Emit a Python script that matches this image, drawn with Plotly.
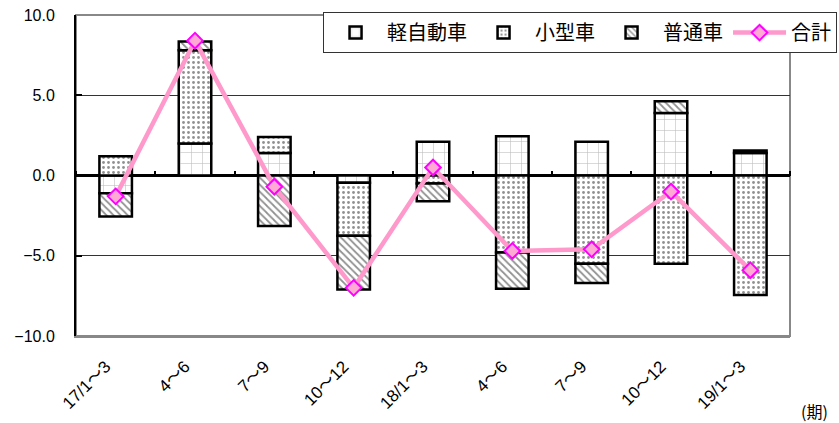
import plotly.graph_objects as go

categories = ["17/1～3", "4～6", "7～9", "10～12", "18/1～3", "4～6", "7～9", "10～12", "19/1～3"]
kei = [-1.1, 2.0, 1.4, -0.45, 2.1, 2.45, 2.1, 3.9, 1.4]
kogata = [1.2, 5.8, 1.0, -3.3, -0.5, -4.8, -5.5, -5.5, -7.45]
futsu = [-1.45, 0.55, -3.15, -3.35, -1.1, -2.25, -1.2, 0.72, 0.15]
total = [-1.3, 8.4, -0.7, -7.0, 0.5, -4.7, -4.6, -1.0, -5.9]
y_ticks = [-10, -5, 0, 5, 10]

xpos = list(range(len(categories)))
boundaries = [i - 0.5 for i in range(len(categories) + 1)]

FONT = "Liberation Sans, Arial, Noto Sans CJK JP, sans-serif"
LEG_FONT = "Noto Sans CJK JP, sans-serif"

fig = go.Figure()

def bar(name, vals, shape, size, solidity, fg):
    fig.add_trace(go.Bar(
        name=name, x=xpos, y=vals, width=0.41,
        marker=dict(color="white",
                    line=dict(color="black", width=2.5),
                    pattern=dict(shape=shape, size=size, solidity=solidity,
                                 fgcolor=fg, bgcolor="white", fillmode="overlay")),
    ))

bar("軽自動車", kei, "+", 11, 0.1, "#777777")
bar("小型車", kogata, ".", 5, 0.25, "#222222")
bar("普通車", futsu, "\\", 5, 0.35, "#222222")

fig.add_trace(go.Scatter(
    name="合計", x=xpos, y=total, mode="lines+markers",
    line=dict(color="#FF99CC", width=4.5),
    marker=dict(symbol="diamond", size=12, color="#FFAAD5",
                line=dict(color="#FF00FF", width=2)),
))

# invisible helper so the category-boundary tick axis at zero is drawn
fig.add_trace(go.Scatter(
    x=boundaries, y=[0] * len(boundaries), xaxis="x2", mode="markers",
    marker=dict(opacity=0), showlegend=False, hoverinfo="skip",
))

fig.update_layout(
    width=839, height=423,
    margin=dict(l=76, r=49, t=15, b=87, autoexpand=False),
    barmode="relative",
    plot_bgcolor="white", paper_bgcolor="white",
    font=dict(family=FONT, size=15, color="black"),
    showlegend=True,
    legend=dict(orientation="h", x=0.346, y=1.009, xanchor="left", yanchor="top",
                bgcolor="white", bordercolor="#333333", borderwidth=1,
                font=dict(family=LEG_FONT, size=20), itemwidth=53,
                traceorder="normal"),
    xaxis=dict(range=[-0.5, len(categories) - 0.5], tickvals=xpos, ticktext=categories,
               tickangle=-45, ticks="", showgrid=False, zeroline=False,
               showline=True, linecolor="#888888", linewidth=2, automargin=False,
               ticklabelstandoff=12, ticklabelshift=-10,
               tickfont=dict(family=FONT, size=17)),
    xaxis2=dict(overlaying="x", anchor="free", position=0.5, side="top",
                range=[-0.5, len(categories) - 0.5], tickvals=boundaries,
                ticks="outside", ticklen=5, tickwidth=2, tickcolor="black",
                showticklabels=False, showline=False, showgrid=False, zeroline=False,
                automargin=False),
    yaxis=dict(range=[-10, 10], tickvals=y_ticks, tickformat=".1f",
               ticks="inside", ticklen=6, tickwidth=1.5, tickcolor="black",
               showline=True, linecolor="black", linewidth=2,
               showgrid=True, gridcolor="#333333", gridwidth=1,
               zeroline=True, zerolinecolor="black", zerolinewidth=2.5,
               ticklabelstandoff=16, automargin=False,
               tickfont=dict(family=FONT, size=16)),
    shapes=[dict(type="rect", xref="paper", yref="paper", x0=0, x1=1, y0=0, y1=1,
                 line=dict(color="#888888", width=2), layer="below")],
    annotations=[dict(text="(期)", xref="paper", yref="paper", x=1.035, y=-0.235,
                      xanchor="center", yanchor="middle", showarrow=False,
                      font=dict(family=LEG_FONT, size=16))],
)

fig.write_html("out.html", config={"displayModeBar": False},
               post_script="document.body.style.margin='0';document.body.style.overflow='hidden';")
